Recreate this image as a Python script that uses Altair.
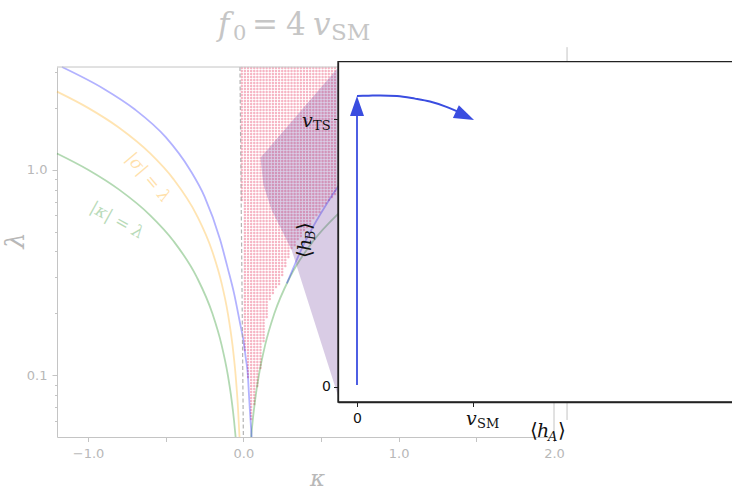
import numpy as np
import pandas as pd
import altair as alt

# ---------------- layout (pixels) ----------------
PAD_L, PAD_B = 57, 54
W, H = 675, 437

MATH = "DejaVu Serif"
SANS = "DejaVu Sans"
FAINT = "#c4c4c4"
FAINT_TXT = "#b8b8b8"
INK = "#111111"
ARROW = "#3a4de0"
PINK = "#f6b5c4"

# ---------------- main panel: (kappa, lambda) plane ----------------
KAPPA_LIM = [-1.2, 2.0]
LAMBDA_LIM = [0.05, 3.1623]
kappa_ticks = [-1.0, -0.5, 0.0, 0.5, 1.0, 1.5, 2.0]
lambda_major = [0.1, 1.0]
lambda_minor = [0.06, 0.07, 0.08, 0.09, 0.2, 0.3, 0.4, 0.5, 0.6, 0.7, 0.8, 0.9, 2.0, 3.0]

# |kappa| = lambda
kappa_green_l = [-1.2, -1.0, -0.8, -0.6, -0.45, -0.3, -0.2, -0.14, -0.1, -0.075, -0.06, -0.05]
lam_green_l = [1.2, 1.0, 0.8, 0.6, 0.45, 0.3, 0.2, 0.14, 0.1, 0.075, 0.06, 0.05]
kappa_green_r = [0.05, 0.06, 0.075, 0.1, 0.14, 0.2, 0.3, 0.45, 0.6, 0.8, 1.0]
lam_green_r = [0.05, 0.06, 0.075, 0.1, 0.14, 0.2, 0.3, 0.45, 0.6, 0.8, 1.0]
# |sigma| = lambda
kappa_orange = [-1.2, -1.0, -0.8, -0.6, -0.45, -0.3, -0.2, -0.14, -0.1, -0.07, -0.05, -0.035, -0.025]
lam_orange = [2.4, 2.0, 1.6, 1.2, 0.9, 0.6, 0.4, 0.28, 0.2, 0.14, 0.1, 0.07, 0.05]
# outer stability boundary
kappa_blue_l = [-1.168, -0.9, -0.7, -0.5, -0.344, -0.25, -0.15, -0.1, -0.06, -0.022, 0.0, 0.016, 0.029, 0.036, 0.045, 0.053]
lam_blue_l = [3.1623, 2.48, 1.97, 1.44, 1.0, 0.74, 0.457, 0.33, 0.25, 0.18, 0.148, 0.12, 0.1, 0.08, 0.062, 0.05]
kappa_blue_r = [0.28, 0.32, 0.364, 0.45, 0.53, 0.609, 0.75, 0.9]
lam_blue_r = [0.28, 0.33, 0.395, 0.53, 0.67, 0.826, 1.12, 1.45]
# kappa ~ 0 guide
kappa_dash = [-0.022, 0.0]
lam_dash = [3.1623, 0.05]

# scanned points with a two-step transition: lower edge of the scanned region
pink_edge_k = [-0.01, 0.0, 0.016, 0.029, 0.036, 0.045, 0.053, 0.07, 0.094, 0.12, 0.139, 0.171, 0.236, 0.30, 0.45, 0.577, 0.62]
pink_edge_l = [0.165, 0.148, 0.12, 0.1, 0.08, 0.062, 0.058, 0.07, 0.092, 0.119, 0.172, 0.233, 0.282, 0.395, 0.57, 0.74, 0.80]
scan_kappa = np.round(np.arange(-0.01, 0.60, 0.02), 3)
scan_loglam = np.arange(np.log10(LAMBDA_LIM[0]), np.log10(LAMBDA_LIM[1]) + 1e-9, 0.0146)

# region where the transition completes (purple)
purple_lam = [0.077, 0.408, 0.4995, 0.639, 0.846, 1.144, 3.1623]
purple_kappa_left = [0.615, 0.31, 0.252, 0.181, 0.129, 0.110, 0.613]
purple_kappa_right = 1.3

# curve annotations
curve_labels = pd.DataFrame({
    "kappa": [-0.614, -0.814],
    "lam": [0.914, 0.565],
    "text": ["|σ| = λ", "|κ| = λ"],
})

# ---------------- inset: field-space path ----------------
INSET_X_LIM = [-0.1638, 3.233]   # in units of v_SM
INSET_Y_LIM = [-0.056, 1.2138]   # in units of v_TS
inset_ticks = [0, 1]
shaft_x, shaft_y = [0.0, 0.0], [0.007, 1.05]
arc_x = [0.0, 0.1, 0.2, 0.345, 0.5, 0.629, 0.759, 0.871, 0.95]
arc_y = [1.086, 1.087, 1.088, 1.086, 1.076, 1.065, 1.047, 1.027, 1.012]
head_x = [0.0, 1.009]
head_y = [1.086, 0.996]
head_angle = [0, 115]

# ---------------- scales ----------------
def xs():
    return alt.Scale(domain=KAPPA_LIM, range=[0, 497])


def ys():
    return alt.Scale(type="log", domain=LAMBDA_LIM, range=[437, 67])


def xi():
    return alt.Scale(domain=INSET_X_LIM, range=[281, 675])


def yi():
    return alt.Scale(domain=INSET_Y_LIM, range=[402, 61.7])


ONE = pd.DataFrame({"_": [0]})

# ---------------- main layers ----------------
kk, ll = np.meshgrid(scan_kappa, scan_loglam)
kk, ll = kk.ravel(), ll.ravel()
lower = np.interp(kk, pink_edge_k, np.log10(pink_edge_l))
dash_k = np.interp(ll, np.log10(lam_dash[::-1]), kappa_dash[::-1])
keep = (ll >= lower) & (kk >= dash_k + 0.004)
pink_df = pd.DataFrame({"kappa": kk[keep], "lam": 10 ** ll[keep]})

main_x_axis = alt.Axis(
    orient="bottom", values=kappa_ticks,
    labelExpr="abs(datum.value - round(datum.value)) < 0.000001 ? format(datum.value, '.1f') : ''",
    tickSize=4.5, tickColor=FAINT, domainColor=FAINT, labelColor=FAINT_TXT,
    labelFont=SANS, labelFontSize=13, labelPadding=6, labelFlush=False, labelOverlap=False,
    grid=False, title="κ", titleFont=MATH, titleFontStyle="italic", titleFontWeight="normal",
    titleFontSize=23, titleColor=FAINT_TXT, titleX=260, titleY=48, titleAlign="center",
    titleBaseline="alphabetic", titleAngle=0)
main_y_axis = alt.Axis(
    orient="left", values=lambda_major, format=".1f",
    tickSize=5, tickColor=FAINT, domainColor=FAINT, labelColor=FAINT_TXT,
    labelFont=SANS, labelFontSize=13, labelPadding=5, labelOverlap=False,
    grid=False, title="λ", titleFont=MATH, titleFontStyle="italic", titleFontWeight="normal",
    titleFontSize=26, titleColor=FAINT_TXT, titleX=-42, titleY=240, titleAlign="center",
    titleBaseline="middle", titleAngle=270)
minor_y_axis = alt.Axis(
    orient="left", values=lambda_minor, labels=False, domain=False, tickSize=2.5,
    tickColor=FAINT, grid=False, title=None)

dots = alt.Chart(pink_df).mark_circle(size=6, color=PINK, opacity=1).encode(
    x=alt.X("kappa:Q", scale=xs(), axis=main_x_axis),
    y=alt.Y("lam:Q", scale=ys(), axis=main_y_axis))

minor = alt.Chart(pd.DataFrame({"kappa": [KAPPA_LIM[0]], "lam": [1.0]})).mark_point(opacity=0).encode(
    x=alt.X("kappa:Q", scale=xs(), axis=None),
    y=alt.Y("lam:Q", scale=ys(), axis=minor_y_axis))


def curve(k, l, color, width=1.8, opacity=0.3, dash=None, interp="monotone"):
    df = pd.DataFrame({"kappa": k, "lam": l})
    kw = dict(color=color, strokeWidth=width, opacity=opacity, interpolate=interp)
    if dash:
        kw["strokeDash"] = dash
    return alt.Chart(df).mark_line(**kw).encode(
        x=alt.X("kappa:Q", scale=xs(), axis=None),
        y=alt.Y("lam:Q", scale=ys(), axis=None))


green_l = curve(kappa_green_l, lam_green_l, "#008000")
green_r = curve(kappa_green_r, lam_green_r, "#008000")
orange = curve(kappa_orange, lam_orange, "#ffa500")
blue_l = curve(kappa_blue_l, lam_blue_l, "#0000ff")
blue_r = curve(kappa_blue_r, lam_blue_r, "#0000ff")

purple_df = pd.DataFrame({"lam": purple_lam, "k0": purple_kappa_left,
                          "k1": [purple_kappa_right] * len(purple_lam)})
purple = alt.Chart(purple_df).mark_area(orient="horizontal", color="#663399", opacity=0.25).encode(
    y=alt.Y("lam:Q", scale=ys(), axis=None),
    x=alt.X("k0:Q", scale=xs(), axis=None),
    x2="k1")

dashed = curve(kappa_dash, lam_dash, "#a0a0a0", width=1.2, opacity=0.8, dash=[4, 2.5], interp="linear")

# frame lines of the main panel
spine_df = pd.DataFrame({
    "k0": [KAPPA_LIM[0], KAPPA_LIM[1], 2.084],
    "k1": [KAPPA_LIM[1], KAPPA_LIM[1], 2.084],
    "l0": [LAMBDA_LIM[1], LAMBDA_LIM[0], 0.0605],
    "l1": [LAMBDA_LIM[1], LAMBDA_LIM[1], 3.95],
})
spines = alt.Chart(spine_df).mark_rule(color=FAINT, strokeWidth=1).encode(
    x=alt.X("k0:Q", scale=xs(), axis=None), x2="k1",
    y=alt.Y("l0:Q", scale=ys(), axis=None), y2="l1")

sigma_label = alt.Chart(curve_labels.iloc[[0]]).mark_text(
    font=MATH, fontStyle="italic", fontSize=17, color="#ffa500", opacity=0.33, angle=50
).encode(x=alt.X("kappa:Q", scale=xs(), axis=None), y=alt.Y("lam:Q", scale=ys(), axis=None), text="text:N")
kappa_label = alt.Chart(curve_labels.iloc[[1]]).mark_text(
    font=MATH, fontStyle="italic", fontSize=17, color="#008000", opacity=0.28, angle=29
).encode(x=alt.X("kappa:Q", scale=xs(), axis=None), y=alt.Y("lam:Q", scale=ys(), axis=None), text="text:N")

# ---------------- inset layers ----------------
inset_x_axis = alt.Axis(
    orient="bottom", offset=-35, values=inset_ticks, labelExpr="datum.value == 0 ? '0' : ''",
    tickSize=4.5, tickColor="#222", domainColor="#222", domainWidth=1.3, labelColor=INK,
    labelFont=SANS, labelFontSize=14, labelPadding=5, labelFlush=False, grid=False,
    title=None, zindex=1)
inset_y_axis = alt.Axis(
    orient="left", offset=-281, values=inset_ticks, labelExpr="datum.value == 0 ? '0' : ''",
    tickSize=4.5, tickColor="#222", domainColor="#222", domainWidth=1.3, labelColor=INK,
    labelFont=SANS, labelFontSize=14, labelPadding=3, labelFlush=False, grid=False,
    title=None, zindex=1)

frame_df = pd.DataFrame({"x0": [INSET_X_LIM[0]], "x1": [3.6],
                         "y0": [INSET_Y_LIM[0]], "y1": [INSET_Y_LIM[1]]})
frame = alt.Chart(frame_df).mark_rect(fill="white", stroke="#222", strokeWidth=1.3).encode(
    x=alt.X("x0:Q", scale=xi(), axis=inset_x_axis), x2="x1",
    y=alt.Y("y0:Q", scale=yi(), axis=inset_y_axis), y2="y1")


def inset_line(xv, yv, width):
    df = pd.DataFrame({"x": xv, "y": yv})
    return alt.Chart(df).mark_line(color=ARROW, strokeWidth=width, interpolate="monotone").encode(
        x=alt.X("x:Q", scale=xi(), axis=None),
        y=alt.Y("y:Q", scale=yi(), axis=None),
        order="x:Q")


shaft = inset_line(shaft_x, shaft_y, 1.8)
arc = inset_line(arc_x, arc_y, 2.0)
heads = alt.Chart(pd.DataFrame({"x": head_x, "y": head_y, "a": head_angle})).mark_point(
    shape="M0,0L0.7,2L-0.7,2Z", size=400, filled=True, color=ARROW, opacity=1, strokeWidth=0
).encode(x=alt.X("x:Q", scale=xi(), axis=None), y=alt.Y("y:Q", scale=yi(), axis=None),
         angle=alt.Angle("a:Q", scale=None))


# ---------------- typeset labels (pieces with sub-scripts) ----------------
def typeset(pieces, x0, y0, color, angle=0):
    out = []
    for txt, dx, dy, size, style, font in pieces:
        kw = dict(text=txt, dx=dx, dy=dy, fontSize=size, fontStyle=style, font=font,
                  color=color, align="left", baseline="alphabetic")
        if angle:
            kw["angle"] = angle
        out.append(alt.Chart(ONE).mark_text(**kw).encode(
            x=alt.value(x0 - PAD_L), y=alt.value(y0)))
    return out


title = typeset([("f", 0, 0, 31, "italic", MATH), ("0", 15, 5, 21, "normal", MATH),
                 ("=", 34, 0, 31, "normal", MATH), ("4", 68, 0, 31, "normal", MATH),
                 ("v", 95, 0, 31, "italic", MATH), ("SM", 113, 5, 23, "normal", MATH)],
                218, 35, "#c6c6c6")
v_ts = typeset([("v", 0, 0, 19, "italic", MATH), ("TS", 11, 3, 13, "normal", MATH)], 302, 127, INK)
v_sm = typeset([("v", 0, 0, 19, "italic", MATH), ("SM", 11, 3, 13, "normal", MATH)], 466, 425, INK)
h_a = typeset([("⟨", 0, 0, 20, "normal", SANS), ("h", 7, 0, 19, "italic", MATH),
               ("A", 18, 4, 13, "italic", MATH), ("⟩", 28, 0, 20, "normal", SANS)], 530, 437, INK)
h_b = typeset([("⟨", 0, 0, 20, "normal", SANS), ("h", 7, 0, 19, "italic", MATH),
               ("B", 18, 4, 13, "italic", MATH), ("⟩", 28, 0, 20, "normal", SANS)], 311, 258, INK, angle=270)

chart = alt.layer(
    dots, minor, green_l, green_r, orange, blue_l, blue_r, purple, dashed, spines,
    sigma_label, kappa_label,
    frame, shaft, arc, heads,
    *title, *v_ts, *v_sm, *h_a, *h_b,
).resolve_scale(
    x="independent", y="independent"
).properties(
    width=W, height=H,
    padding={"left": PAD_L, "top": 0, "right": 0, "bottom": PAD_B},
    autosize=alt.AutoSizeParams(type="none"),
    background="white",
).configure_view(strokeWidth=0)

chart.save("out.html", embed_options={"renderer": "svg", "actions": False})
